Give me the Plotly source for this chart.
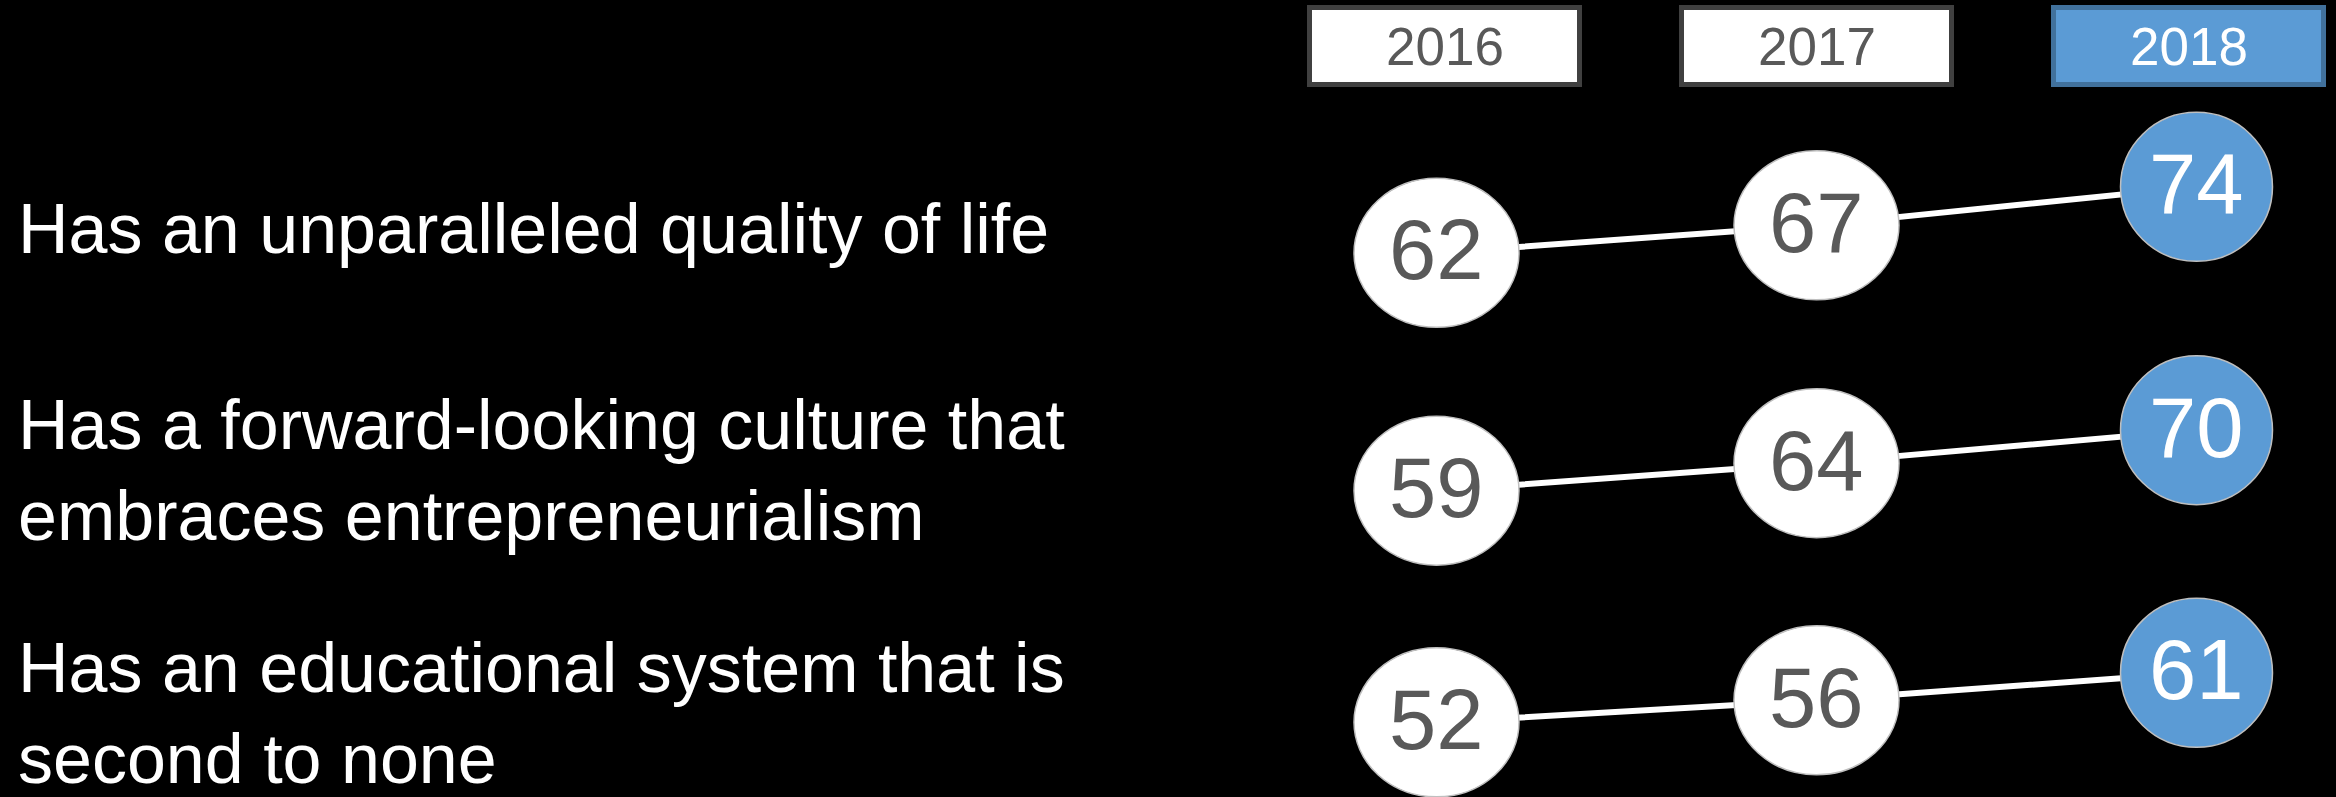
import plotly.graph_objects as go

# ---- data ----
years = ["2016", "2017", "2018"]
statements = [
    "Has an unparalleled quality of life",
    "Has a forward-looking culture that<br>embraces entrepreneurialism",
    "Has an educational system that is<br>second to none",
]
scores_quality = [62, 67, 74]
scores_culture = [59, 64, 70]
scores_education = [52, 56, 61]
rows = [scores_quality, scores_culture, scores_education]

# ---- styling / layout constants ----
W, H = 2336, 797
PX_PER_UNIT_X = 380.0
X0_PX = 1436.5
PX_PER_UNIT_Y = 5.5
row_centers_px = [221.7, 461.3, 698.5]   # vertical pixel position of each row's mean
FONT = "Liberation Sans, Arial, sans-serif"
GREY_TXT = "#595959"
BLUE = "#5B9BD5"
BLUE_EDGE = "#41719C"
BOX_EDGE = "#404040"

fig = go.Figure()

xs = list(range(len(years)))
xr0 = -X0_PX / PX_PER_UNIT_X
xr1 = xr0 + W / PX_PER_UNIT_X
span = H / PX_PER_UNIT_Y

yaxis_names = ["y", "y2", "y3"]
layout_axes = {}
shapes = []
annotations = []

for r, vals in enumerate(rows):
    yname = yaxis_names[r]
    mean_v = sum(vals) / len(vals)
    top = mean_v + row_centers_px[r] / PX_PER_UNIT_Y
    key = "yaxis" if r == 0 else f"yaxis{r+1}"
    ax = dict(range=[top - span, top], visible=False, showgrid=False,
              zeroline=False, fixedrange=True, domain=[0, 1])
    if r > 0:
        ax["overlaying"] = "y"
    layout_axes[key] = ax

    fig.add_trace(go.Scatter(
        x=xs, y=vals, mode="lines", yaxis=yname,
        line=dict(color="white", width=6), hoverinfo="skip",
        showlegend=False))

    for i, v in enumerate(vals):
        last = (i == len(vals) - 1)
        hw = 76 if last else 82.5
        shapes.append(dict(
            type="circle", xref="x", yref=yname,
            xsizemode="pixel", ysizemode="pixel",
            xanchor=xs[i], yanchor=v,
            x0=-hw, x1=hw, y0=-74.5, y1=74.5,
            fillcolor=BLUE if last else "white",
            line=dict(color="#BFBFBF", width=1.5),
            layer="above",
        ))
        annotations.append(dict(
            text=str(v), xref="x", yref=yname, x=xs[i], y=v,
            xanchor="center", yanchor="middle", showarrow=False,
            yshift=3,
            font=dict(family=FONT, size=85,
                      color="white" if last else GREY_TXT),
        ))

# header boxes
for i, yr in enumerate(years):
    last = (i == len(years) - 1)
    offset = (1 - i) * 8
    shapes.append(dict(
        type="rect", xref="x", yref="paper",
        xsizemode="pixel", xanchor=xs[i],
        x0=offset - 135, x1=offset + 135,
        y0=1 - 84.5 / H, y1=1 - 7.5 / H,
        fillcolor=BLUE if last else "white",
        line=dict(color=BLUE_EDGE if last else BOX_EDGE, width=5),
        layer="above",
    ))
    annotations.append(dict(
        text=yr, xref="x", yref="paper",
        x=xs[i] + offset / PX_PER_UNIT_X, y=1 - 47 / H,
        xanchor="center", yanchor="middle", showarrow=False,
        font=dict(family=FONT, size=53,
                  color="white" if last else GREY_TXT),
    ))

# statement labels
label_centers_px = [229, 470, 713]
for r, txt in enumerate(statements):
    annotations.append(dict(
        text=txt, xref="paper", yref="paper",
        x=16 / W, y=1 - label_centers_px[r] / H,
        xanchor="left", yanchor="middle", align="left",
        showarrow=False,
        font=dict(family=FONT, size=70, color="white"),
    ))

fig.update_layout(
    width=W, height=H,
    margin=dict(l=0, r=0, t=0, b=0),
    paper_bgcolor="black", plot_bgcolor="black",
    xaxis=dict(range=[xr0, xr1], visible=False, showgrid=False,
               zeroline=False, fixedrange=True),
    shapes=shapes, annotations=annotations,
    showlegend=False, hovermode=False,
    **layout_axes,
)

fig.write_html(
    "out.html",
    config={"displayModeBar": False},
    post_script="document.body.style.margin='0';document.body.style.background='black';",
)
